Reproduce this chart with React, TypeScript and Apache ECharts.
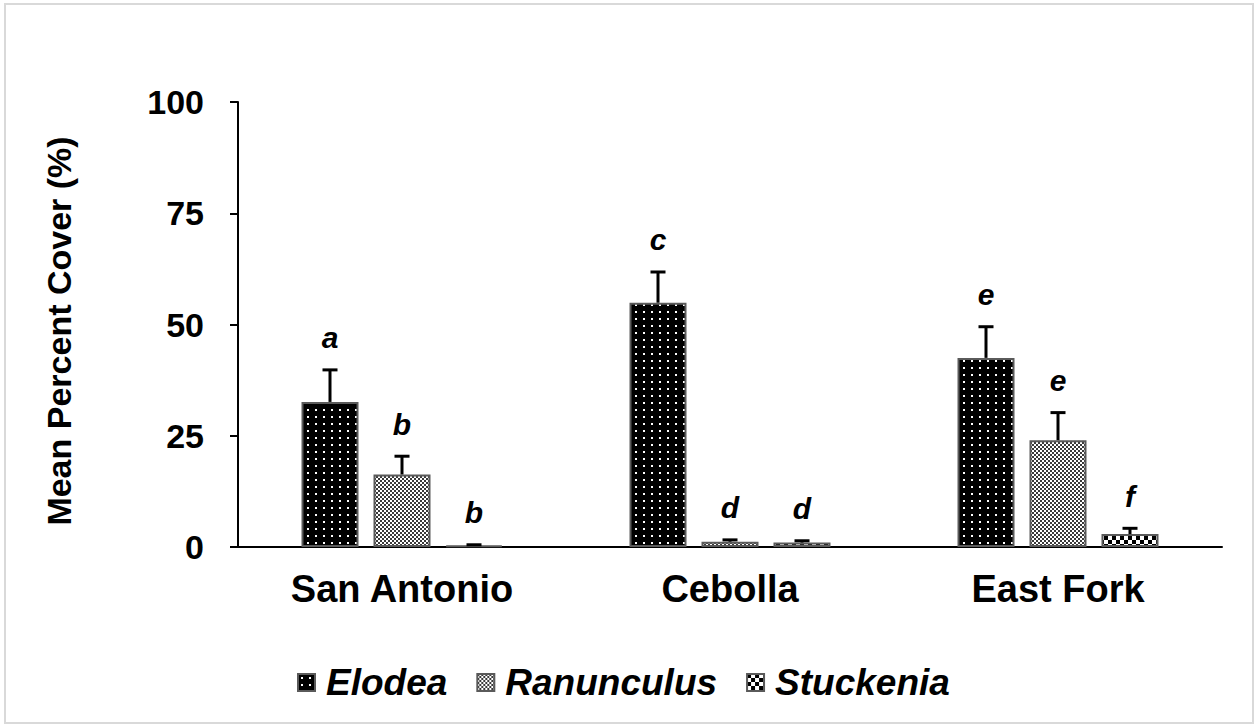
import React, { useEffect, useRef } from "react";
import * as echarts from "echarts";

// Sites along the x axis
const sites = ["San Antonio", "Cebolla", "East Fork"];

// Mean percent cover per species and site
const elodea = [32.6, 54.9, 42.5];
const ranunculus = [16.3, 1.2, 24.0];
const stuckenia = [0.3, 1.0, 2.9];

// Standard error (upper bar only)
const elodeaSE = [7.2, 6.9, 7.0];
const ranunculusSE = [4.1, 0.4, 6.2];
const stuckeniaSE = [0.2, 0.4, 1.3];

// Significance letters
const elodeaLetters = ["a", "c", "e"];
const ranunculusLetters = ["b", "d", "e"];
const stuckeniaLetters = ["b", "d", "f"];

// Y axis ticks
const yMin = 0;
const yMax = 100;
const yStep = 25;

const FONT = "Arial, 'Liberation Sans', Helvetica, sans-serif";
const BAR_W = 57;
const BAR_GAP = 15;

function makeTile(w: number, h: number, draw: (ctx: CanvasRenderingContext2D) => void) {
  const c = document.createElement("canvas");
  c.width = w;
  c.height = h;
  const ctx = c.getContext("2d")!;
  draw(ctx);
  return c;
}

function dotsPattern() {
  return makeTile(8, 7, (ctx) => {
    ctx.fillStyle = "#000";
    ctx.fillRect(0, 0, 8, 7);
    ctx.fillStyle = "#fff";
    ctx.fillRect(3, 3, 2, 2);
  });
}

function checkerPattern(cell: number, ink: string) {
  return makeTile(cell * 2, cell * 2, (ctx) => {
    ctx.fillStyle = "#fff";
    ctx.fillRect(0, 0, cell * 2, cell * 2);
    ctx.fillStyle = ink;
    ctx.fillRect(0, 0, cell, cell);
    ctx.fillRect(cell, cell, cell, cell);
  });
}

export default function App() {
  const ref = useRef<HTMLDivElement>(null);

  useEffect(() => {
    if (!ref.current) return;
    const chart = echarts.init(ref.current, null, { renderer: "svg" });

    const fills = [
      { image: dotsPattern(), repeat: "repeat" },
      { image: checkerPattern(2, "#3a3a3a"), repeat: "repeat" },
      { image: checkerPattern(4, "#000"), repeat: "repeat" },
    ];
    const names = ["Elodea", "Ranunculus", "Stuckenia"];
    const means = [elodea, ranunculus, stuckenia];
    const errs = [elodeaSE, ranunculusSE, stuckeniaSE];
    const letters = [elodeaLetters, ranunculusLetters, stuckeniaLetters];

    const barSeries = names.map((name, i) => ({
      name,
      type: "bar",
      data: means[i],
      barWidth: BAR_W,
      barGap: `${((BAR_GAP / BAR_W) * 100).toFixed(1)}%`,
      itemStyle: {
        color: fills[i] as any,
        borderColor: "#5a5a5a",
        borderWidth: 2,
      },
    }));

    const errorSeries = names.map((name, i) => ({
      name: `${name} SE`,
      type: "custom",
      z: 5,
      data: means[i].map((m, k) => [k, m, errs[i][k]]),
      renderItem: (params: any, api: any) => {
        const k = api.value(0);
        const m = api.value(1);
        const se = api.value(2);
        const offset = (i - 1) * (BAR_W + BAR_GAP);
        const base = api.coord([k, m]);
        const top = api.coord([k, m + se]);
        const x = base[0] + offset;
        return {
          type: "group",
          children: [
            {
              type: "line",
              shape: { x1: x, y1: base[1], x2: x, y2: top[1] },
              style: { stroke: "#000", lineWidth: 3 },
            },
            {
              type: "line",
              shape: { x1: x - 7.5, y1: top[1], x2: x + 7.5, y2: top[1] },
              style: { stroke: "#000", lineWidth: 3 },
            },
            {
              type: "text",
              x,
              y: top[1] - 17,
              style: {
                text: letters[i][params.dataIndex],
                font: `italic bold 30px ${FONT}`,
                fill: "#000",
                align: "center",
                verticalAlign: "bottom",
              },
            },
          ],
        };
      },
    }));

    chart.setOption({
      animation: false,
      backgroundColor: "#fff",
      graphic: [
        {
          type: "rect",
          shape: { x: 5, y: 4, width: 1248, height: 719 },
          style: { fill: "none", stroke: "#d9d9d9", lineWidth: 2 },
          silent: true,
        },
        {
          type: "text",
          x: 59,
          y: 331,
          rotation: Math.PI / 2,
          silent: true,
          style: {
            text: "Mean Percent Cover (%)",
            font: `bold 34px ${FONT}`,
            fill: "#000",
            align: "center",
            verticalAlign: "middle",
          },
        },
      ],
      grid: { left: 238, right: 34, top: 102, bottom: 179 },
      legend: {
        data: names,
        left: 292,
        top: 659,
        itemWidth: 17,
        itemHeight: 17,
        itemGap: 29,
        icon: "rect",
        textStyle: {
          fontFamily: FONT,
          fontSize: 37,
          fontWeight: "bold",
          fontStyle: "italic",
          color: "#000",
          padding: [0, 0, 0, 6],
        },
      },
      xAxis: {
        type: "category",
        data: sites,
        axisLine: { lineStyle: { color: "#000", width: 2 } },
        axisTick: { show: false },
        axisLabel: {
          margin: 23,
          fontFamily: FONT,
          fontSize: 38,
          fontWeight: "bold",
          color: "#000",
        },
      },
      yAxis: {
        type: "value",
        min: yMin,
        max: yMax,
        interval: yStep,
        splitLine: { show: false },
        axisLine: { show: true, lineStyle: { color: "#000", width: 2 } },
        axisTick: { show: true, length: 8, lineStyle: { color: "#000", width: 2 } },
        axisLabel: {
          margin: 34,
          fontFamily: FONT,
          fontSize: 34,
          fontWeight: "bold",
          color: "#000",
        },
      },
      series: [...barSeries, ...errorSeries],
    } as any);

    return () => chart.dispose();
  }, []);

  return (
    <div
      ref={ref}
      style={{ position: "absolute", left: 0, top: 0, width: 1256, height: 726 }}
    />
  );
}
